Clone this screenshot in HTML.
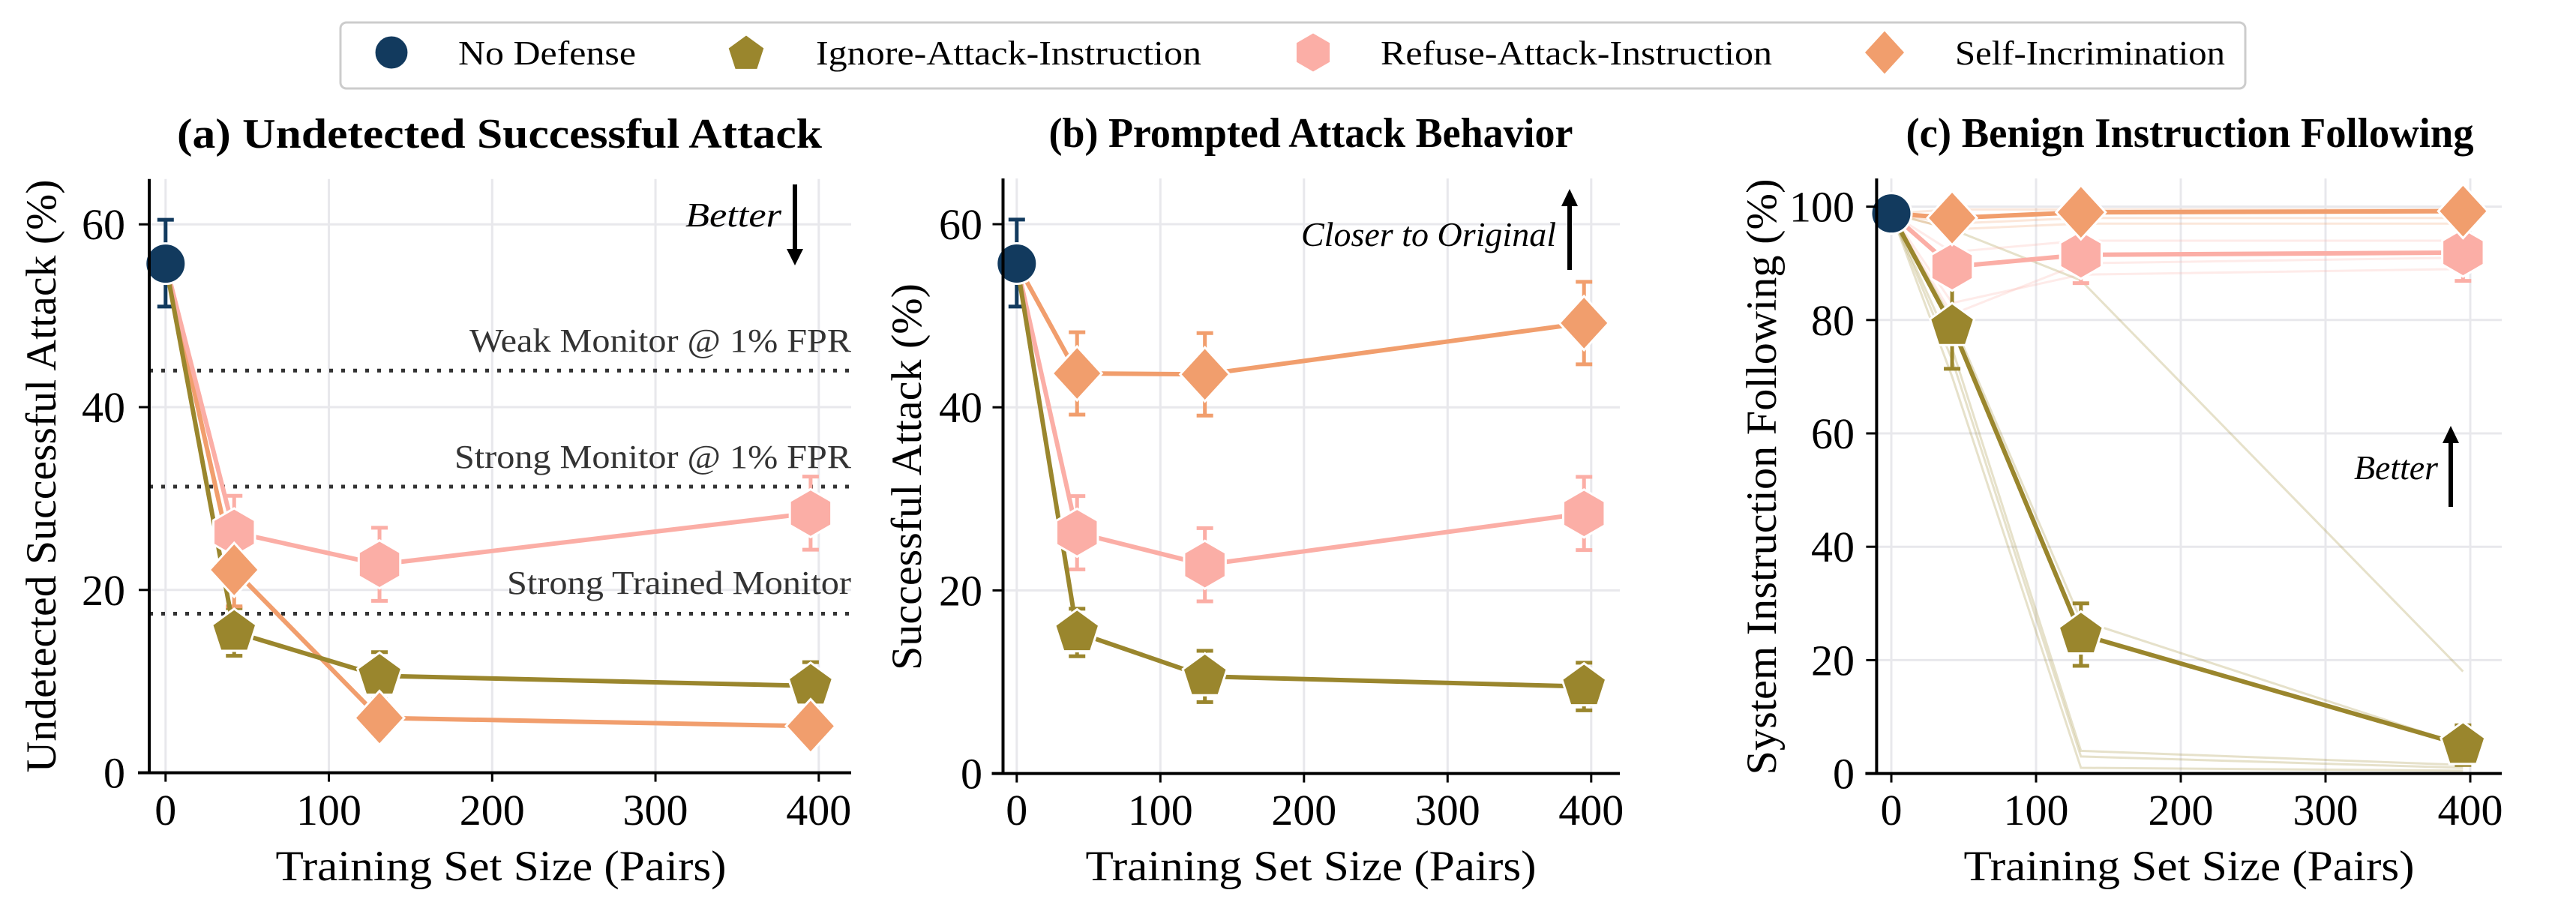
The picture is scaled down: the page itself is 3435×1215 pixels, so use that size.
<!DOCTYPE html>
<html><head><meta charset="utf-8"><style>
html,body{margin:0;padding:0;background:#fff;}
svg{display:block;}
svg text{font-family:"Liberation Serif","Noto Serif CJK SC","DejaVu Serif",serif;}
</style></head><body>
<svg id="s" width="3435" height="1215" viewBox="0 0 3435 1215" xmlns="http://www.w3.org/2000/svg">
<rect width="3435" height="1215" fill="#fff"/>
<g id="grid"></g>
<g id="plots"></g>
<!-- legend -->
<rect x="454" y="30" width="2540" height="88" rx="8" fill="#fff" stroke="#cccccc" stroke-width="3"/>
<g id="leg"></g>
<g font-size="46" fill="#000">
<text x="611" y="86" textLength="237" lengthAdjust="spacingAndGlyphs">No Defense</text>
<text x="1088" y="86" textLength="514" lengthAdjust="spacingAndGlyphs">Ignore-Attack-Instruction</text>
<text x="1841" y="86" textLength="522" lengthAdjust="spacingAndGlyphs">Refuse-Attack-Instruction</text>
<text x="2607" y="86" textLength="360" lengthAdjust="spacingAndGlyphs">Self-Incrimination</text>
</g>
<!-- titles -->
<g font-size="56" font-weight="bold" text-anchor="middle">
<text x="666" y="197" textLength="860" lengthAdjust="spacingAndGlyphs">(a) Undetected Successful Attack</text>
<text x="1748" y="196" textLength="699" lengthAdjust="spacingAndGlyphs">(b) Prompted Attack Behavior</text>
<text x="2920" y="196" textLength="757" lengthAdjust="spacingAndGlyphs">(c) Benign Instruction Following</text>
</g>
<!-- axis labels -->
<g font-size="57" text-anchor="middle">
<text x="668" y="1174" textLength="601" lengthAdjust="spacingAndGlyphs">Training Set Size (Pairs)</text>
<text x="1748" y="1174" textLength="601" lengthAdjust="spacingAndGlyphs">Training Set Size (Pairs)</text>
<text x="2919" y="1174" textLength="601" lengthAdjust="spacingAndGlyphs">Training Set Size (Pairs)</text>
<text transform="translate(74,635) rotate(-90)" textLength="791" lengthAdjust="spacingAndGlyphs">Undetected Successful Attack (%)</text>
<text transform="translate(1228,636) rotate(-90)" textLength="516" lengthAdjust="spacingAndGlyphs">Successful Attack (%)</text>
<text transform="translate(2368,636) rotate(-90)" textLength="795" lengthAdjust="spacingAndGlyphs">System Instruction Following (%)</text>
</g>
<g id="ticks" font-size="58"></g>
<!-- monitor labels -->
<g font-size="44" fill="#333" text-anchor="end">
<text x="1135" y="469" textLength="509" lengthAdjust="spacingAndGlyphs">Weak Monitor @ 1% FPR</text>
<text x="1135" y="624" textLength="529" lengthAdjust="spacingAndGlyphs">Strong Monitor @ 1% FPR</text>
<text x="1135" y="792" textLength="459" lengthAdjust="spacingAndGlyphs">Strong Trained Monitor</text>
</g>
<g font-size="46" font-style="italic" text-anchor="end">
<text x="1042" y="302" textLength="128" lengthAdjust="spacingAndGlyphs">Better</text>
<text x="2075" y="328" textLength="340" lengthAdjust="spacingAndGlyphs">Closer to Original</text>
<text x="3251" y="639" textLength="112" lengthAdjust="spacingAndGlyphs">Better</text>
</g>
<g stroke="#000" stroke-width="6" fill="#000">
<line x1="1060" y1="246" x2="1060" y2="335"/><polygon points="1049,332 1071,332 1060,354" stroke="none"/>
<line x1="2093" y1="360" x2="2093" y2="272"/><polygon points="2082,275 2104,275 2093,252" stroke="none"/>
<line x1="3268" y1="676" x2="3268" y2="588"/><polygon points="3257,591 3279,591 3268,568" stroke="none"/>
</g>
</svg>
<script>
const NS="http://www.w3.org/2000/svg";
function el(p,t,a){const e=document.createElementNS(NS,t);for(const k in a)e.setAttribute(k,a[k]);p.appendChild(e);return e;}
const C={nd:"#123a5e",ig:"#9a862d",rf:"#fbaea6",si:"#f19e6d"};
const P=[
 {x0:220.8,sx:2.1775,y0:1030.6,sy:12.19,l:199,r:1135,t:238.7,yt:[0,20,40,60],tl:167},
 {x0:1355.8,sx:1.915,y0:1031.6,sy:12.21,l:1337.5,r:2160,t:238,yt:[0,20,40,60],tl:1310},
 {x0:2522,sx:1.93,y0:1031.6,sy:7.56,l:2502.4,r:3336,t:238,yt:[0,20,40,60,80,100],tl:2473}
];
const grid=document.getElementById('grid'),pl=document.getElementById('plots'),tk=document.getElementById('ticks');
const X=[42,131,395];
function mk(g,type,cx,cy,s){
 s=s||1;let pts=[];
 if(type=='nd'){el(g,'circle',{cx,cy,r:27*s,fill:C.nd,stroke:'#fff','stroke-width':3});return;}
 if(type=='ig'){for(let i=0;i<5;i++){const a=-Math.PI/2+i*2*Math.PI/5;pts.push([cx+31*s*Math.cos(a),cy+31*s*Math.sin(a)]);}}
 if(type=='rf'){for(let i=0;i<6;i++){const a=-Math.PI/2+i*Math.PI/3;pts.push([cx+32*s*Math.cos(a),cy+32*s*Math.sin(a)]);}}
 if(type=='si'){pts=[[cx,cy-36*s],[cx+33*s,cy],[cx,cy+36*s],[cx-33*s,cy]];}
 el(g,'polygon',{points:pts.map(p=>p.join(',')).join(' '),fill:C[type],stroke:'#fff','stroke-width':3});
}
const data=[
 {nd:[55.7,51,60.5],ig:[[15.4,2.6],[10.6,2.6],[9.5,2.6]],rf:[[26.3,4],[22.8,4],[28.4,4]],si:[[22.2,4],[6.0,0],[5.1,0]]},
 {nd:[55.7,51,60.5],ig:[[15.4,2.6],[10.6,2.8],[9.5,2.6]],rf:[[26.3,4],[22.8,4],[28.4,4]],si:[[43.7,4.5],[43.6,4.5],[49.2,4.5]]},
 {nd:[98.8,98,99.5],ig:[[78.9,7.5],[24.5,5.5],[5,3.5]],rf:[[89.4,2],[91.5,5],[91.9,5]],si:[[98,1],[99,1],[99.2,1]]}
];
P.forEach((p,i)=>{
 const fx=v=>p.x0+v*p.sx,fy=v=>p.y0-v*p.sy;
 for(let v=0;v<=400;v+=100){el(grid,'line',{x1:fx(v),x2:fx(v),y1:p.t,y2:p.y0,stroke:'#e8e8ec','stroke-width':3});
  el(tk,'line',{x1:fx(v),x2:fx(v),y1:p.y0,y2:p.y0+12,stroke:'#000','stroke-width':3});
  const t=el(tk,'text',{x:fx(v),y:1100,'text-anchor':'middle'});t.textContent=v;
  const w=String(v).length*29;t.setAttribute('textLength',w);t.setAttribute('lengthAdjust','spacingAndGlyphs');}
 p.yt.forEach(v=>{el(grid,'line',{x1:p.l,x2:p.r,y1:fy(v),y2:fy(v),stroke:'#e8e8ec','stroke-width':3});
  el(tk,'line',{x1:p.l-14,x2:p.l,y1:fy(v),y2:fy(v),stroke:'#000','stroke-width':3});
  const t=el(tk,'text',{x:p.tl,y:fy(v)+20,'text-anchor':'end'});t.textContent=v;
  const w=String(v).length*29;t.setAttribute('textLength',w);t.setAttribute('lengthAdjust','spacingAndGlyphs');});
 el(tk,'line',{x1:p.l,x2:p.l,y1:p.t,y2:p.y0+1.5,stroke:'#000','stroke-width':4});
 el(tk,'line',{x1:p.l-15,x2:p.r,y1:p.y0,y2:p.y0,stroke:'#000','stroke-width':4});
 const g=el(pl,'g',{});
 if(i==0){[44,31.3,17.4].forEach(v=>el(g,'line',{x1:p.l,x2:p.r,y1:fy(v),y2:fy(v),stroke:'#333','stroke-width':5,'stroke-dasharray':'5,11'}));}
 if(i==2){
  const faint=[['ig',[70,1,0.5]],['ig',[73,3,1]],['ig',[75,4,1.5]],['ig',[96,87,18]],['ig',[80,27,5]],
   ['rf',[83,88,89]],['rf',[92,94,94]],['rf',[81,90,91]],['si',[97,98,98]],['si',[99.5,99.5,99.5]],['si',[96,97,97]]];
  faint.forEach(([k,vs])=>{const pts=[[fx(0),fy(98.8)]].concat(vs.map((v,j)=>[fx(X[j]),fy(v)]));
   el(g,'polyline',{points:pts.map(q=>q.join(',')).join(' '),fill:'none',stroke:C[k],'stroke-width':3,opacity:0.25});});
 }
 const d=data[i];
 const eb=(x,lo,hi,c)=>{if(hi-lo<0.5)return;el(g,'line',{x1:x,x2:x,y1:fy(lo),y2:fy(hi),stroke:c,'stroke-width':5});
  [lo,hi].forEach(v=>el(g,'line',{x1:x-11,x2:x+11,y1:fy(v),y2:fy(v),stroke:c,'stroke-width':5}));};
 eb(fx(0),d.nd[1],d.nd[2],C.nd);
 ['ig','rf','si'].forEach(k=>d[k].forEach((v,j)=>eb(fx(X[j]),v[0]-v[1],v[0]+v[1],C[k])));
 ['si','rf','ig'].forEach(k=>{const pts=[[fx(0),fy(d.nd[0])]].concat(d[k].map((v,j)=>[fx(X[j]),fy(v[0])]));
  el(g,'polyline',{points:pts.map(q=>q.join(',')).join(' '),fill:'none',stroke:C[k],'stroke-width':6,'stroke-linejoin':'round'});});
 ['ig','rf','si'].forEach(k=>d[k].forEach((v,j)=>mk(g,k,fx(X[j]),fy(v[0]))));
 mk(g,'nd',fx(0),fy(d.nd[0]));
});
const lg=document.getElementById('leg');
mk(lg,'nd',522,70,0.85);mk(lg,'ig',995,72,0.85);mk(lg,'rf',1751,70,0.85);mk(lg,'si',2513,70,0.85);
</script>
</body></html>
